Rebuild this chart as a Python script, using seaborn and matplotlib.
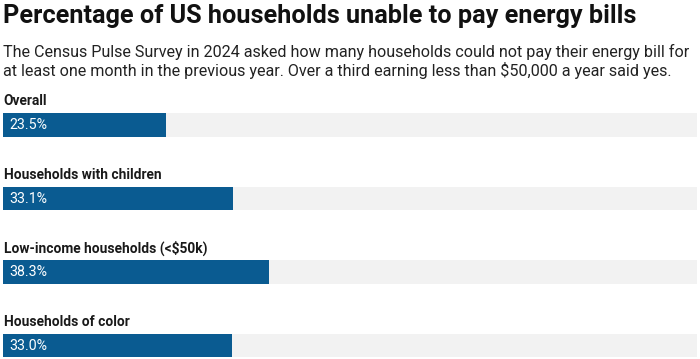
import matplotlib
matplotlib.use("Agg")
import matplotlib.pyplot as plt
import seaborn as sns
import pandas as pd

# ---- data ----
categories = ["Overall", "Households with children", "Low-income households (<$50k)", "Households of color"]
values = [23.5, 33.1, 38.3, 33.0]
value_labels = ["23.5%", "33.1%", "38.3%", "33.0%"]
full_scale = [100, 100, 100, 100]

title = "Percentage of US households unable to pay energy bills"
subtitle = ("The Census Pulse Survey in 2024 asked how many households could not pay their energy bill for\n"
            "at least one month in the previous year. Over a third earning less than $50,000 a year said yes.")

df = pd.DataFrame({"category": categories, "value": values, "full": full_scale})

sns.set_theme(style="white")
plt.rcParams["font.family"] = ["Roboto", "DejaVu Sans"]

W, H = 700, 359
fig = plt.figure(figsize=(W / 100, H / 100), dpi=100)
fig.patch.set_facecolor("white")

# axes geometry in pixels
x0, x1 = 3.3, 696.7
first_c, step = 125.0, 73.5
bar_h_px = 23.5
ax = fig.add_axes([x0 / W, 0, (x1 - x0) / W, 1])
ax.set_facecolor("none")

bw = bar_h_px / step
sns.barplot(data=df, y="category", x="full", orient="h", color="#f2f2f2",
            width=bw, ax=ax, saturation=1, linewidth=0)
sns.barplot(data=df, y="category", x="value", orient="h", color="#0a5b91",
            width=bw, ax=ax, saturation=1, linewidth=0)

ax.set_xlim(0, 100)
ax.set_ylim((H - first_c) / step, -first_c / step)
ax.set_axis_off()

px_per_unit = (x1 - x0) / 100
for i, (cat, lab) in enumerate(zip(categories, value_labels)):
    ax.text(0.05, i - bw / 2 - 8 / step, cat, fontsize=9.9, fontweight="bold",
            color="#1a1a1a", va="baseline", ha="left")
    ax.text(6.2 / px_per_unit, i + 4.2 / step, lab, fontsize=10.2, color="white",
            va="baseline", ha="left")

fig.text(3 / W, 1 - 23 / H, title, fontsize=18.2, fontweight="bold",
         color="#111111", va="baseline", ha="left")
fig.text(3 / W, 1 - 57 / H, subtitle.split("\n")[0], fontsize=11.65,
         color="#222222", va="baseline", ha="left")
fig.text(3 / W, 1 - 76 / H, subtitle.split("\n")[1], fontsize=11.65,
         color="#222222", va="baseline", ha="left")

fig.savefig("out.png", dpi=100, facecolor="white")
